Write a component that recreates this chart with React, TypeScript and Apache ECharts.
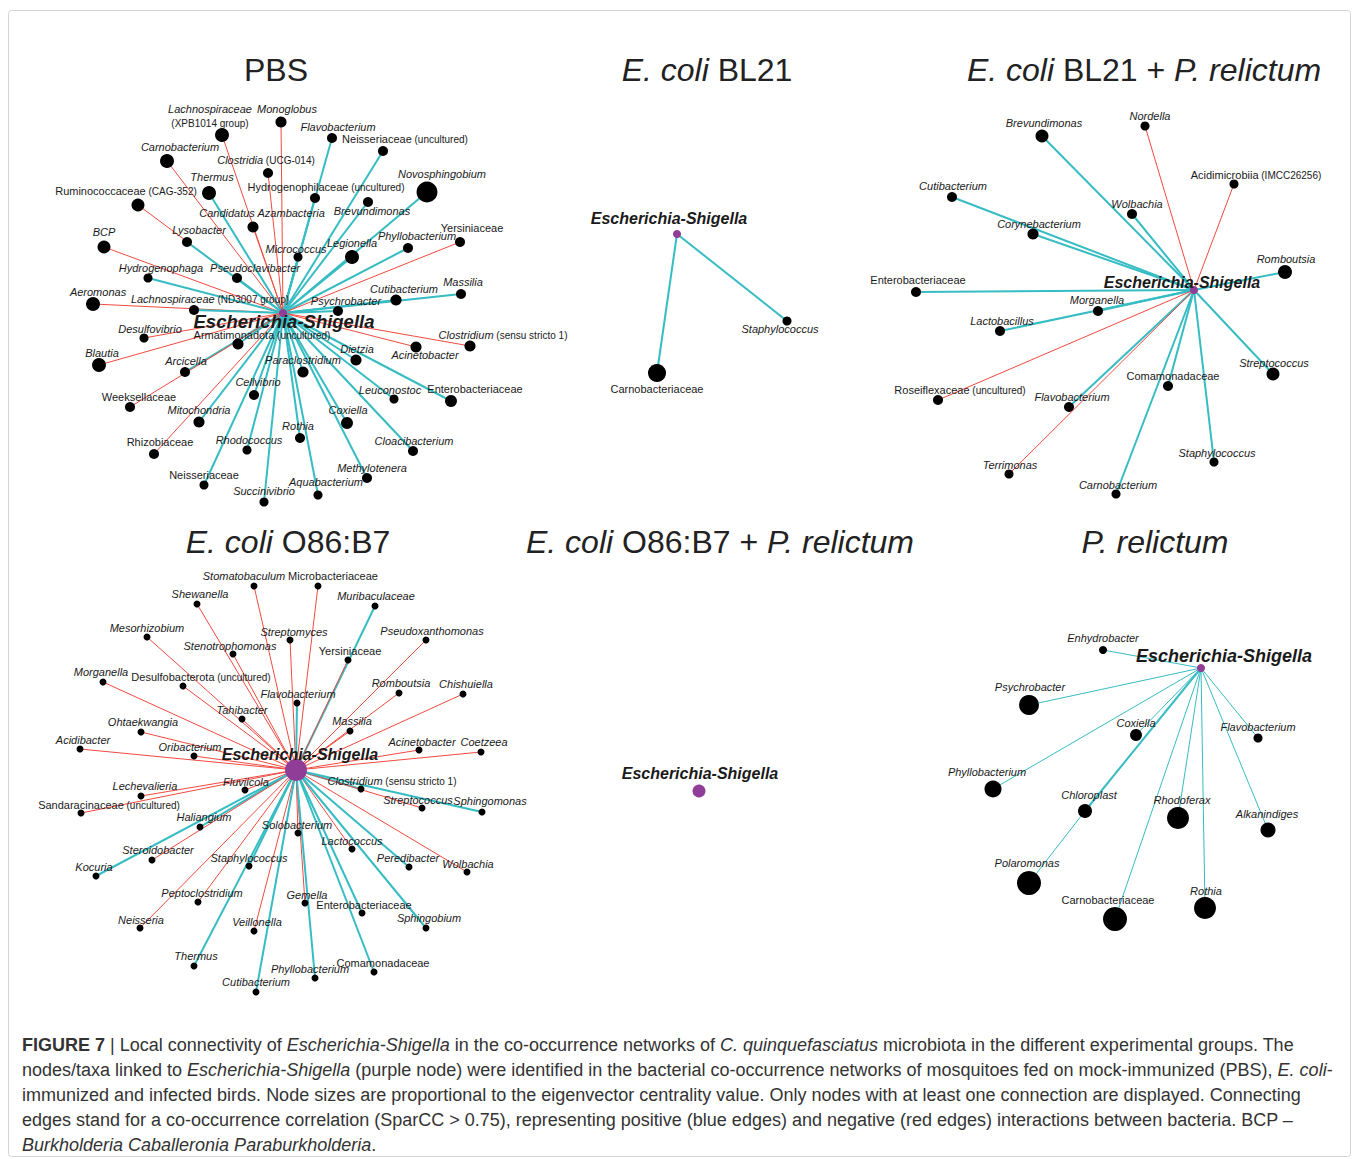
import React, { useEffect, useRef } from "react";
import * as echarts from "echarts";

// node tuple: [taxon, x, y, eigenvector centrality, sign of correlation, label x, label y, linked to (default: Escherichia-Shigella)]
type Node = [string, number, number, number, "b" | "r", number, number, string?];

const HUB = "Escherichia-Shigella";

const pbsNodes: Node[] = [
  ["Lachnospiraceae (XPB1014 group)", 222, 135, 0.41, "r", 210, 116],
  ["Monoglobus", 281, 122, 0.24, "r", 287, 109],
  ["Carnobacterium", 167, 161, 0.41, "r", 180, 147],
  ["Clostridia (UCG-014)", 268, 173, 0.18, "r", 266, 160],
  ["Thermus", 209, 193, 0.41, "b", 212, 177],
  ["Ruminococcaceae (CAG-352)", 138, 205, 0.35, "r", 126, 191],
  ["Candidatus Azambacteria", 253, 227, 0.24, "r", 262, 213],
  ["BCP", 104, 247, 0.35, "r", 104, 232],
  ["Lysobacter", 187, 242, 0.18, "b", 199, 230],
  ["Hydrogenophaga", 148, 278, 0.12, "b", 161, 268],
  ["Pseudoclavibacter", 237, 278, 0.18, "b", 255, 268],
  ["Micrococcus", 298, 257, 0.12, "b", 296, 249],
  ["Aeromonas", 93, 304, 0.41, "r", 98, 292],
  ["Lachnospiraceae (ND3007 group)", 194, 310, 0.18, "b", 210, 299],
  ["Flavobacterium", 332, 138, 0.18, "b", 338, 127],
  ["Neisseriaceae (uncultured)", 383, 151, 0.18, "b", 405, 139],
  ["Hydrogenophilaceae (uncultured)", 315, 198, 0.18, "b", 326, 187],
  ["Novosphingobium", 427, 192, 0.82, "b", 442, 174],
  ["Brevundimonas", 368, 202, 0.18, "b", 372, 211],
  ["Legionella", 352, 257, 0.41, "b", 352, 243],
  ["Phyllobacterium", 408, 248, 0.18, "b", 417, 236],
  ["Yersiniaceae", 460, 242, 0.18, "r", 472, 228],
  ["Cutibacterium", 396, 300, 0.24, "b", 404, 289],
  ["Massilia", 461, 294, 0.18, "b", 463, 282],
  ["Psychrobacter", 338, 311, 0.18, "b", 346, 301],
  ["Clostridium (sensu stricto 1)", 470, 346, 0.24, "r", 503, 335],
  ["Acinetobacter", 416, 347, 0.24, "r", 425, 355],
  ["Dietzia", 356, 360, 0.24, "b", 357, 349],
  ["Paraclostridium", 303, 372, 0.24, "b", 303, 360],
  ["Leuconostoc", 394, 399, 0.12, "b", 390, 390],
  ["Enterobacteriaceae", 451, 401, 0.29, "b", 475, 389],
  ["Coxiella", 347, 423, 0.29, "b", 348, 410],
  ["Cloacibacterium", 413, 451, 0.18, "b", 414, 441],
  ["Methylotenera", 367, 478, 0.18, "b", 372, 468],
  ["Aquabacterium", 318, 495, 0.12, "b", 326, 482],
  ["Rothia", 300, 438, 0.18, "b", 298, 426],
  ["Desulfovibrio", 144, 338, 0.12, "r", 150, 329],
  ["Armatimonadota (uncultured)", 238, 344, 0.24, "b", 262, 335],
  ["Blautia", 99, 365, 0.41, "r", 102, 353],
  ["Arcicella", 185, 372, 0.18, "b", 186, 361],
  ["Cellvibrio", 254, 395, 0.18, "b", 258, 382],
  ["Weeksellaceae", 130, 407, 0.18, "r", 139, 397],
  ["Mitochondria", 199, 422, 0.24, "b", 199, 410],
  ["Rhodococcus", 247, 450, 0.12, "b", 249, 440],
  ["Rhizobiaceae", 154, 454, 0.18, "r", 160, 442],
  ["Neisseriaceae", 204, 485, 0.12, "b", 204, 475],
  ["Succinivibrio", 264, 502, 0.12, "b", 264, 491],
];

const bl21Nodes: Node[] = [
  ["Staphylococcus", 787, 321, 0.12, "b", 780, 329],
  ["Carnobacteriaceae", 657, 373, 0.65, "b", 657, 389],
];

const bl21PNodes: Node[] = [
  ["Brevundimonas", 1042, 136, 0.35, "b", 1044, 123],
  ["Cutibacterium", 952, 197, 0.18, "b", 953, 186],
  ["Corynebacterium", 1033, 234, 0.24, "b", 1039, 224],
  ["Enterobacteriaceae", 916, 292, 0.18, "b", 918, 280],
  ["Nordella", 1145, 126, 0.12, "r", 1150, 116],
  ["Acidimicrobiia (IMCC26256)", 1234, 184, 0.12, "r", 1256, 175],
  ["Wolbachia", 1132, 214, 0.18, "b", 1137, 204],
  ["Romboutsia", 1285, 272, 0.41, "b", 1286, 259],
  ["Morganella", 1098, 311, 0.18, "b", 1097, 300],
  ["Lactobacillus", 1000, 331, 0.18, "b", 1002, 321],
  ["Roseiflexaceae (uncultured)", 938, 400, 0.18, "r", 960, 390],
  ["Flavobacterium", 1069, 407, 0.18, "b", 1072, 397],
  ["Comamonadaceae", 1168, 386, 0.18, "b", 1173, 376],
  ["Streptococcus", 1273, 374, 0.35, "b", 1274, 363],
  ["Terrimonas", 1009, 474, 0.12, "r", 1010, 465],
  ["Carnobacterium", 1116, 494, 0.12, "b", 1118, 485],
  ["Staphylococcus", 1214, 462, 0.12, "b", 1217, 453],
];

const o86Nodes: Node[] = [
  ["Stomatobaculum", 254, 586, 0, "r", 244, 576],
  ["Microbacteriaceae", 318, 586, 0, "r", 333, 576],
  ["Shewanella", 197, 604, 0, "r", 200, 594],
  ["Muribaculaceae", 375, 606, 0, "b", 376, 596],
  ["Mesorhizobium", 147, 637, 0, "r", 147, 628],
  ["Streptomyces", 290, 640, 0, "r", 294, 632],
  ["Pseudoxanthomonas", 426, 640, 0, "r", 432, 631],
  ["Stenotrophomonas", 233, 654, 0, "r", 230, 646],
  ["Yersiniaceae", 348, 660, 0, "r", 350, 651],
  ["Morganella", 103, 682, 0, "r", 101, 672],
  ["Desulfobacterota (uncultured)", 183, 686, 0, "r", 201, 677],
  ["Romboutsia", 399, 693, 0, "r", 401, 683],
  ["Chishuiella", 463, 694, 0, "r", 466, 684],
  ["Flavobacterium", 297, 703, 0, "b", 298, 694],
  ["Tahibacter", 242, 719, 0, "r", 242, 710],
  ["Ohtaekwangia", 141, 732, 0, "r", 143, 722],
  ["Massilia", 350, 731, 0, "r", 352, 721],
  ["Acidibacter", 80, 749, 0, "r", 83, 740],
  ["Acinetobacter", 419, 750, 0, "r", 422, 742],
  ["Coetzeea", 481, 752, 0, "r", 484, 742],
  ["Oribacterium", 194, 756, 0, "r", 190, 747],
  ["Fluviicola", 245, 790, 0, "r", 246, 782],
  ["Lechevalieria", 141, 796, 0, "r", 145, 786],
  ["Clostridium (sensu stricto 1)", 361, 789, 0, "b", 392, 781],
  ["Streptococcus", 422, 808, 0, "r", 418, 800],
  ["Sphingomonas", 482, 812, 0, "b", 490, 801],
  ["Sandaracinaceae (uncultured)", 81, 813, 0, "r", 109, 805],
  ["Haliangium", 200, 827, 0, "b", 204, 817],
  ["Solobacterium", 298, 833, 0, "r", 297, 825],
  ["Lactococcus", 352, 849, 0, "r", 352, 841],
  ["Steroidobacter", 152, 860, 0, "r", 158, 850],
  ["Staphylococcus", 249, 866, 0, "b", 249, 858],
  ["Peredibacter", 409, 867, 0, "b", 408, 858],
  ["Wolbachia", 467, 872, 0, "r", 468, 864],
  ["Kocuria", 96, 876, 0, "b", 94, 867],
  ["Peptoclostridium", 198, 902, 0, "r", 202, 893],
  ["Gemella", 305, 903, 0, "r", 307, 895],
  ["Enterobacteriaceae", 362, 913, 0, "b", 364, 905],
  ["Neisseria", 140, 928, 0, "r", 141, 920],
  ["Sphingobium", 426, 928, 0, "b", 429, 918],
  ["Veillonella", 254, 931, 0, "r", 257, 922],
  ["Thermus", 194, 966, 0, "b", 196, 956],
  ["Comamonadaceae", 374, 972, 0, "b", 383, 963],
  ["Phyllobacterium", 315, 978, 0, "b", 310, 969],
  ["Cutibacterium", 256, 992, 0, "b", 256, 982],
];

const o86PNodes: Node[] = [];

const prelNodes: Node[] = [
  ["Enhydrobacter", 1103, 650, 0.06, "b", 1103, 638],
  ["Psychrobacter", 1029, 705, 0.76, "b", 1030, 687],
  ["Coxiella", 1136, 735, 0.29, "b", 1136, 723],
  ["Flavobacterium", 1258, 738, 0.12, "b", 1258, 727],
  ["Phyllobacterium", 993, 789, 0.59, "b", 987, 772],
  ["Chloroplast", 1085, 811, 0.41, "b", 1089, 795],
  ["Rhodoferax", 1178, 818, 0.88, "b", 1182, 800],
  ["Alkanindiges", 1268, 830, 0.47, "b", 1267, 814],
  ["Polaromonas", 1029, 883, 1.0, "b", 1027, 863, "Chloroplast"],
  ["Carnobacteriaceae", 1115, 919, 1.0, "b", 1108, 900],
  ["Rothia", 1205, 908, 0.88, "b", 1206, 891],
];

// hub: [x, y, centrality, label x, label y, label size]
const hubs: [number, number, number, number, number, number][] = [
  [283, 313, 0.06, 284, 321, 18.5],
  [677, 234, 0.06, 669, 218, 16],
  [1194, 290, 0.06, 1182, 282, 16],
  [296, 770, 0.88, 300, 754, 16],
  [699, 791, 0.35, 700, 773, 16],
  [1201, 668, 0.06, 1224, 656, 18],
];

const panelNodes = [pbsNodes, bl21Nodes, bl21PNodes, o86Nodes, o86PNodes, prelNodes];
const thinPositive = [false, false, false, false, false, true];

const titles: [string, number, number][] = [
  ["PBS", 276, 70],
  ["{i|E. coli} BL21", 707, 70],
  ["{i|E. coli} BL21 + {i|P. relictum}", 1144, 70],
  ["{i|E. coli} O86:B7", 288, 542],
  ["{i|E. coli} O86:B7 + {i|P. relictum}", 720, 542],
  ["{i|P. relictum}", 1155, 542],
];

const captionLines = [
  "{b|FIGURE 7} | Local connectivity of {i|Escherichia-Shigella} in the co-occurrence networks of {i|C. quinquefasciatus} microbiota in the different experimental groups. The",
  "nodes/taxa linked to {i|Escherichia-Shigella} (purple node) were identified in the bacterial co-occurrence networks of mosquitoes fed on mock-immunized (PBS), {i|E. coli}-",
  "immunized and infected birds. Node sizes are proportional to the eigenvector centrality value. Only nodes with at least one connection are displayed. Connecting",
  "edges stand for a co-occurrence correlation (SparCC > 0.75), representing positive (blue edges) and negative (red edges) interactions between bacteria. BCP –",
  "{i|Burkholderia Caballeronia Paraburkholderia}.",
];

const NORMAL_TAXA = new Set([
  "Ruminococcaceae", "Neisseriaceae", "Hydrogenophilaceae", "Yersiniaceae", "Enterobacteriaceae",
  "Armatimonadota", "Weeksellaceae", "Rhizobiaceae", "Carnobacteriaceae", "Comamonadaceae",
  "Roseiflexaceae", "Acidimicrobiia", "Microbacteriaceae", "Desulfobacterota", "Sandaracinaceae",
]);

const FONT = "'Liberation Sans', Arial, Helvetica, sans-serif";
const CYAN = "#36bcc3";
const RED = "#f04a40";
const PURPLE = "#8f3d97";
const TEXT = "#1a1a1a";

function labelText(name: string): string {
  const m = name.match(/^(.*?)( \(.*\))?$/) as RegExpMatchArray;
  const main = m[1];
  const paren = m[2];
  const st = NORMAL_TAXA.has(main) ? "n" : "i";
  if (paren && paren.includes("XPB1014")) return `{i|${main}}\n{p|${paren.trim()}}`;
  return `{${st}|${main}}` + (paren ? `{p|${paren}}` : "");
}

const nodeRich = {
  i: { fontStyle: "italic", fontSize: 11, fontFamily: FONT, color: TEXT, lineHeight: 14 },
  n: { fontSize: 11, fontFamily: FONT, color: TEXT, lineHeight: 14 },
  p: { fontSize: 10, fontFamily: FONT, color: TEXT, lineHeight: 14 },
};

function buildSeries(idx: number) {
  const nodes = panelNodes[idx];
  const hub = hubs[idx];
  const data: any[] = nodes.map((n) => ({
    name: n[0],
    value: [n[1], n[2]],
    symbolSize: 7 + 17 * n[3],
    itemStyle: { color: "#000" },
    label: {
      offset: [n[5] - n[1], n[6] - n[2]],
      formatter: () => labelText(n[0]),
    },
  }));
  data.push({
    name: HUB,
    value: [hub[0], hub[1]],
    symbolSize: 7 + 17 * hub[2],
    itemStyle: { color: PURPLE },
    label: {
      offset: [hub[3] - hub[0], hub[4] - hub[1]],
      formatter: () => `{h|${HUB}}`,
      rich: {
        h: { fontStyle: "italic", fontWeight: "bold", fontSize: hub[5], fontFamily: FONT, color: TEXT },
      },
    },
  });
  const links = nodes.map((n) => {
    const pos = n[4] === "b";
    const target = n[7] || HUB;
    let width = pos ? 2 : 1;
    if (thinPositive[idx] && pos) width = target === HUB && n[0] === "Chloroplast" ? 2 : 1;
    return {
      source: target,
      target: n[0],
      lineStyle: { color: pos ? CYAN : RED, width, opacity: 1, curveness: 0 },
    };
  });
  return {
    type: "graph",
    coordinateSystem: "cartesian2d",
    xAxisIndex: 0,
    yAxisIndex: 0,
    layout: "none",
    silent: true,
    emphasis: { disabled: true },
    symbol: "circle",
    edgeSymbol: ["none", "none"],
    data,
    links,
    label: {
      show: true,
      position: "inside",
      align: "center",
      verticalAlign: "middle",
      fontFamily: FONT,
      fontSize: 11,
      color: TEXT,
      rich: nodeRich,
    },
    z: 2,
  };
}

export default function App() {
  const ref = useRef<HTMLDivElement>(null);
  useEffect(() => {
    if (!ref.current) return;
    const chart = echarts.init(ref.current, undefined, { renderer: "svg" });
    const titleRich = {
      i: { fontStyle: "italic", fontSize: 32, fontFamily: FONT, fill: "#222" },
    };
    const capRich = {
      i: { fontStyle: "italic", fontSize: 18, fontFamily: FONT, fill: "#333" },
      b: { fontWeight: "bold", fontSize: 18, fontFamily: FONT, fill: "#333" },
    };
    const graphic: any[] = [
      {
        type: "rect",
        shape: { x: 8.5, y: 10.5, width: 1342, height: 1146, r: 3 },
        style: { fill: "none", stroke: "#d4d4d4", lineWidth: 1 },
        silent: true,
        z: 0,
      },
      ...titles.map(([t, x, y]) => ({
        type: "text",
        x,
        y,
        silent: true,
        style: {
          text: t,
          align: "center",
          verticalAlign: "middle",
          fontSize: 32,
          fontFamily: FONT,
          fill: "#222",
          rich: titleRich,
        },
      })),
      ...captionLines.map((t, i) => ({
        type: "text",
        x: 22,
        y: 1045 + i * 25,
        silent: true,
        style: {
          text: t,
          align: "left",
          verticalAlign: "middle",
          fontSize: 18,
          fontFamily: FONT,
          fill: "#333",
          rich: capRich,
        },
      })),
    ];
    chart.setOption({
      animation: false,
      backgroundColor: "#fff",
      grid: { left: 0, right: 0, top: 0, bottom: 0, containLabel: false },
      xAxis: { type: "value", min: 0, max: 1356, show: false },
      yAxis: { type: "value", min: 0, max: 1159, inverse: true, show: false },
      series: panelNodes.map((_, i) => buildSeries(i)),
      graphic,
    });
    return () => chart.dispose();
  }, []);
  return (
    <div
      ref={ref}
      style={{ position: "absolute", left: 0, top: 0, width: 1356, height: 1159 }}
    />
  );
}
